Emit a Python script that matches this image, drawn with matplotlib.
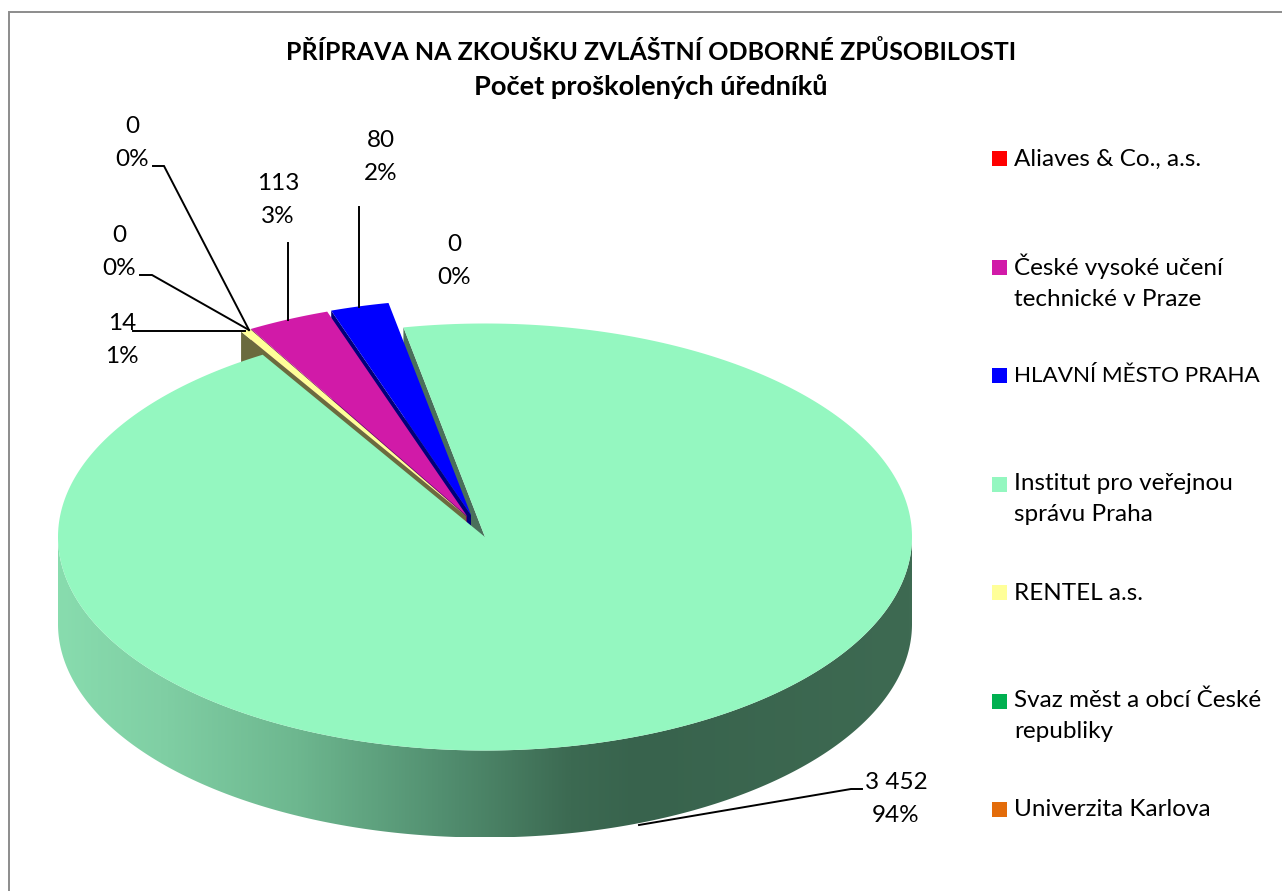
import matplotlib
matplotlib.use("Agg")
import matplotlib.pyplot as plt
import numpy as np
from matplotlib.colors import LinearSegmentedColormap
from matplotlib.patches import Polygon, Rectangle

plt.rcParams['font.family'] = ['Lato', 'DejaVu Sans']

title_lines = ["PŘÍPRAVA NA ZKOUŠKU ZVLÁŠTNÍ ODBORNÉ ZPŮSOBILOSTI", "Počet proškolených úředníků"]
categories = ["Aliaves & Co., a.s.", "České vysoké učení\ntechnické v Praze", "HLAVNÍ MĚSTO PRAHA",
              "Institut pro veřejnou\nsprávu Praha", "RENTEL a.s.", "Svaz měst a obcí České\nrepubliky",
              "Univerzita Karlova"]
values = [0, 113, 80, 3452, 14, 0, 0]
colors = ["#ff0000", "#d11aa8", "#0000ff", "#94f7c0", "#ffff99", "#00b050", "#e36c0a"]
wall_colors = ["#800000", "#6f0e5a", "#00007a", "#4a6f5a", "#6b6b3e", "#005828", "#713605"]

# labels as printed on the chart, placed by hand like the original
label_texts = ["0\n0%", "113\n3%", "80\n2%", "3 452\n94%", "14\n1%", "0\n0%", "0\n0%"]
label_x = [454, 278, 381, 896, 122, 119, 132]
label_y = [261, 200, 157, 799, 340, 252, 143]

leaders = [
    [(153, 166), (164, 166), (249, 330)],
    [(140, 275), (152, 275), (249, 330)],
    [(133, 331), (245, 331)],
    [(288, 243), (288, 320)],
    [(359, 207), (359, 307)],
    [(862, 789), (851, 789), (639, 825)],
]
legend_y = [159, 282, 376, 499, 593, 716, 810]
legend_size = [17.5, 17.5, 16.2, 17.5, 17.5, 17.5, 17.5]

# pie geometry in pixels
CX, CY, RX = 485, 537, 427
SQUASH = 0.5
DEPTH = 87
EXPL_R = 432
EXPL_CENTER = {1: (467, 516), 2: (471, 515), 4: (466, 516)}
START = -30.0


def rim(theta, cx, cy, r):
    t = np.radians(theta)
    return np.column_stack([cx + r * np.sin(t), cy - r * SQUASH * np.cos(t)])


def sector(a, b, cx, cy, r):
    arc = rim(np.linspace(a, b, 400), cx, cy, r)
    return np.vstack([[cx, cy], arc])


def cut_face(theta, cx, cy, r):
    p = rim(np.array([theta]), cx, cy, r)[0]
    return [(cx, cy), tuple(p), (p[0], p[1] + DEPTH), (cx, cy + DEPTH)]


fig = plt.figure(figsize=(12.82, 8.91), dpi=100)
ax = fig.add_axes([0, 0, 1, 1])

angles = START + np.cumsum([0] + values) * 360.0 / sum(values)
big = int(np.argmax(values))

# cut face of the big slice sits behind the small ones
ax.add_patch(Polygon(cut_face(angles[big], CX, CY, RX), fc=wall_colors[big], ec="none", zorder=1))

# small exploded slices, back to front
z = 2
for i in [2, 1, 4]:
    ex, ey = EXPL_CENTER[i]
    ax.add_patch(Polygon(cut_face(angles[i], ex, ey, EXPL_R), fc=wall_colors[i], ec="none", zorder=z))
    ax.add_patch(Polygon(sector(angles[i], angles[i + 1], ex, ey, EXPL_R), fc=colors[i], ec="none", zorder=z + 1))
    z += 2

# outer wall of the big slice with its horizontal shading
front = rim(np.linspace(90, 270, 500), CX, CY, RX)
wall = np.vstack([front, (front + [0, DEPTH])[::-1]])
wall_patch = Polygon(wall, fc="none", ec="none", transform=ax.transData)
ax.add_patch(wall_patch)
shade = LinearSegmentedColormap.from_list("wall", [
    (0.0, "#88dcae"), (0.12, "#80cfa4"), (0.28, "#6db78f"), (0.45, "#528f70"),
    (0.60, "#3c6a52"), (0.68, "#38634d"), (1.0, "#3e6a52")])
img = ax.imshow(np.linspace(0, 1, 512)[None, :], cmap=shade, aspect="auto",
                extent=(CX - RX, CX + RX, CY + RX * SQUASH + DEPTH, CY - 10), zorder=10)
img.set_clip_path(wall_patch)

ax.add_patch(Polygon(sector(angles[big], angles[big + 1], CX, CY, RX), fc=colors[big], ec="none", zorder=11))

for pts in leaders:
    xs, ys = zip(*pts)
    ax.plot(xs, ys, color="black", lw=1.4, solid_joinstyle="miter", zorder=12)

for txt, x, y in zip(label_texts, label_x, label_y):
    ax.text(x, y, txt, ha="center", va="center", fontsize=17.5, linespacing=1.66, color="black", zorder=13)

for name, c, y, s in zip(categories, colors, legend_y, legend_size):
    top = y - 15 if "\n" in name else y - 1
    ax.add_patch(Rectangle((992, top - 7.5), 15, 15, fc=c, ec="none", zorder=12))
    ax.text(1014, y, name, ha="left", va="center", fontsize=s, linespacing=1.6, color="black", zorder=13)

ax.text(651, 52, title_lines[0], ha="center", va="center", fontsize=18, fontweight="bold", color="black")
ax.text(651, 87, title_lines[1], ha="center", va="center", fontsize=19.6, fontweight="bold", color="black")

# only left and top edges of the chart frame are in the crop
ax.plot([9, 9, 1282], [891, 11.5, 11.5], color="#8c8c8c", lw=1.4, solid_joinstyle="miter", zorder=14)

ax.set_xlim(0, 1282)
ax.set_ylim(891, 0)
ax.axis("off")

fig.savefig("out.png", dpi=100)
